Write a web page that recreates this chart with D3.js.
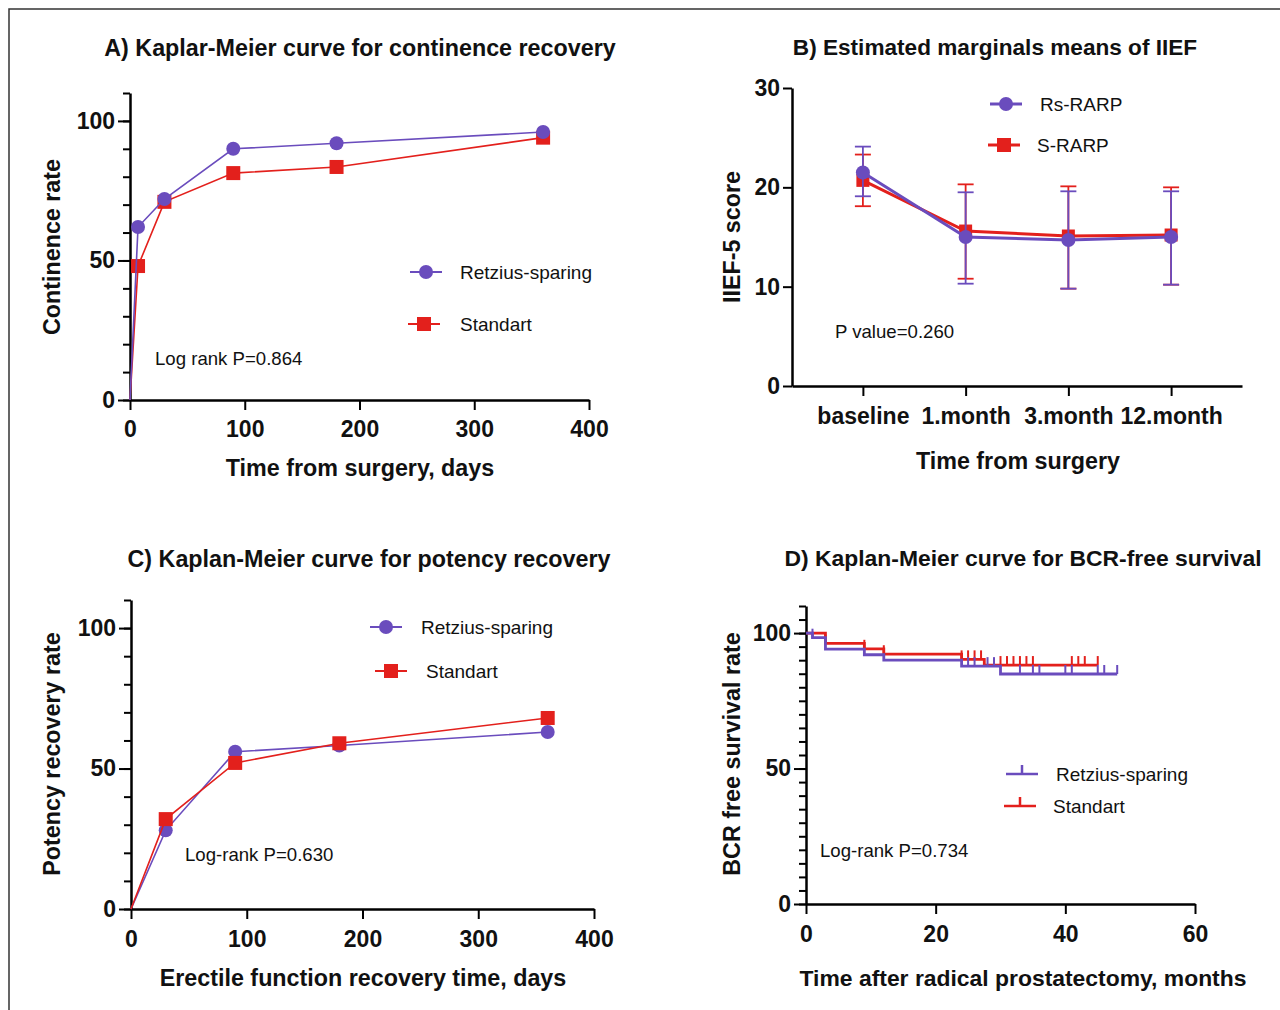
<!DOCTYPE html>
<html>
<head>
<meta charset="utf-8">
<script src="https://cdn.jsdelivr.net/npm/d3@7"></script>
<style>
    body { margin: 0; background: #fff; }
    svg { display: block; font-family: Arial, "Liberation Sans", sans-serif; }
</style>
</head>
<body>
<svg id="chart" width="1280" height="1010"></svg>
<script>
'use strict';

// ##################################################
// #  Data                                          #
// ##################################################

const continenceDays = [0, 7, 30, 90, 180, 360];
const continenceRetzius = [0, 62, 72, 90, 92, 96];
const continenceStandart = [0, 48, 71, 81.3, 83.5, 94];

const iiefVisits = ['baseline', '1.month', '3.month', '12.month'];
const iiefRsMean = [21.5, 15.0, 14.7, 15.0];
const iiefRsLow = [19.1, 10.3, 9.8, 10.2];
const iiefRsHigh = [24.1, 19.5, 19.6, 19.6];
const iiefSMean = [20.7, 15.6, 15.1, 15.2];
const iiefSLow = [18.1, 10.8, 9.8, 10.2];
const iiefSHigh = [23.3, 20.3, 20.1, 20.0];

const potencyDays = [0, 30, 90, 180, 360];
const potencyRetzius = [0, 28, 56, 58.2, 63];
const potencyStandart = [0, 32, 52, 59, 68];

const bcrRetziusTimes = [0, 1, 3, 9, 12, 24, 30, 48];
const bcrRetziusSurv = [100, 98.3, 94.1, 92.0, 90.0, 87.8, 84.9, 84.9];
const bcrRetziusCensored = [1, 25, 26, 28, 29, 33, 35, 36, 40, 41, 45, 46, 48];
const bcrStandartTimes = [0, 3, 9, 12, 24, 27.5, 45];
const bcrStandartSurv = [100, 96.2, 94.2, 92.2, 90.3, 88.2, 88.2];
const bcrStandartCensored = [3, 9, 12, 24, 25, 26, 27, 30, 31, 32, 33, 34, 35, 41, 42, 43, 45];

const purple = '#6a4cbd';
const red = '#e3201c';
const titleSize = 23.3;

let svg = d3.select('#chart');

// frame
svg.append('path')
    .attr('d', 'M9,1010V9H1280')
    .attr('fill', 'none')
    .attr('stroke', '#333')
    .attr('stroke-width', 1.5);

// ##################################################
// #  Helpers                                       #
// ##################################################

function styleAxis(g) {
    g.select('.domain').attr('stroke', '#000').attr('stroke-width', 2.5);
    g.selectAll('.tick line').attr('stroke', '#000').attr('stroke-width', 2);
    g.selectAll('.tick text')
        .attr('fill', '#111')
        .attr('font-size', 23)
        .attr('font-weight', 'bold')
        .attr('font-family', 'Arial, "Liberation Sans", sans-serif');
}

function drawYAxis(scale, x, majors, minors, majorSize, minorSize) {
    let g = svg.append('g').attr('transform', `translate(${x},0)`);
    if (minors) {
        g.append('g')
            .call(d3.axisLeft(scale).tickValues(minors).tickSize(minorSize).tickFormat(''))
            .call(m => m.select('.domain').remove())
            .call(m => m.selectAll('line').attr('stroke', '#000').attr('stroke-width', 2));
    }
    g.append('g')
        .call(d3.axisLeft(scale).tickValues(majors).tickSize(majorSize).tickSizeOuter(0).tickPadding(3))
        .call(styleAxis);
}

function drawXAxis(scale, y, ticks, padding) {
    let axis = d3.axisBottom(scale).tickSize(10).tickSizeOuter(0).tickPadding(padding);
    if (ticks) axis.tickValues(ticks);
    svg.append('g')
        .attr('transform', `translate(0,${y})`)
        .call(axis)
        .call(styleAxis);
}

function text(x, y, str, opts) {
    opts = opts || {};
    let t = svg.append('text')
        .attr('x', x)
        .attr('y', y)
        .attr('fill', '#111')
        .attr('font-size', opts.size || 18.6)
        .attr('font-weight', opts.bold ? 'bold' : 'normal')
        .attr('text-anchor', opts.anchor || 'start')
        .text(str);
    if (opts.rotate) {
        t.attr('transform', `rotate(-90,${x},${y})`);
    }
    return t;
}

function marker(x, y, shape, color, size) {
    if (shape === 'circle') {
        svg.append('circle')
            .attr('cx', x).attr('cy', y).attr('r', size / 2)
            .attr('fill', color);
    } else {
        svg.append('rect')
            .attr('x', x - size / 2).attr('y', y - size / 2)
            .attr('width', size).attr('height', size)
            .attr('fill', color);
    }
}

function lineSeries(xs, ys, xScale, yScale, color, width, shape, size, skipFirst) {
    let pts = xs.map((d, i) => [xScale(d), yScale(ys[i])]);
    svg.append('path')
        .attr('d', d3.line()(pts))
        .attr('fill', 'none')
        .attr('stroke', color)
        .attr('stroke-width', width);
    pts.forEach((p, i) => {
        if (skipFirst && i === 0) return;
        marker(p[0], p[1], shape, color, size);
    });
}

function legendEntry(x1, x2, y, color, shape, label, tx, width) {
    svg.append('line')
        .attr('x1', x1).attr('x2', x2).attr('y1', y).attr('y2', y)
        .attr('stroke', color).attr('stroke-width', width || 2);
    if (shape === 'tick') {
        svg.append('line')
            .attr('x1', (x1 + x2) / 2).attr('x2', (x1 + x2) / 2)
            .attr('y1', y).attr('y2', y - 9)
            .attr('stroke', color).attr('stroke-width', 2.5);
    } else {
        marker((x1 + x2) / 2, y, shape, color, 14);
    }
    text(tx, y + 7, label, { size: 19 });
}

// ##################################################
// #  A) Continence                                 #
// ##################################################

(function () {
    let x = d3.scaleLinear([0, 400], [130, 589]);
    let y = d3.scaleLinear([0, 110], [400, 93]);
    drawYAxis(y, 130, [0, 50, 100], d3.range(0, 111, 10), 12, 7);
    drawXAxis(x, 400, [0, 100, 200, 300, 400], 11);

    lineSeries(continenceDays, continenceStandart, x, y, red, 1.6, 'square', 14, true);
    lineSeries(continenceDays, continenceRetzius, x, y, purple, 1.6, 'circle', 14, true);

    text(360, 56, 'A) Kaplar-Meier curve for continence recovery', { size: titleSize, bold: true, anchor: 'middle' });
    text(360, 476, 'Time from surgery, days', { size: titleSize, bold: true, anchor: 'middle' });
    text(60, 247, 'Continence rate', { size: titleSize, bold: true, anchor: 'middle', rotate: true });
    text(155, 365, 'Log rank P=0.864');

    legendEntry(410, 442, 272, purple, 'circle', 'Retzius-sparing', 460);
    legendEntry(408, 440, 324, red, 'square', 'Standart', 460);
})();

// ##################################################
// #  B) IIEF-5                                     #
// ##################################################

(function () {
    let x = d3.scalePoint(iiefVisits, [792, 1242]).padding(0.69);
    let y = d3.scaleLinear([0, 30], [386, 88]);
    drawYAxis(y, 792, [0, 10, 20, 30], null, 9, 0);
    drawXAxis(x, 386, null, 12);

    function errorBars(low, high, color) {
        iiefVisits.forEach((v, i) => {
            let cx = x(v);
            let g = svg.append('g').attr('stroke', color).attr('stroke-width', 1.8);
            g.append('line').attr('x1', cx).attr('x2', cx).attr('y1', y(low[i])).attr('y2', y(high[i]));
            g.append('line').attr('x1', cx - 8).attr('x2', cx + 8).attr('y1', y(low[i])).attr('y2', y(low[i]));
            g.append('line').attr('x1', cx - 8).attr('x2', cx + 8).attr('y1', y(high[i])).attr('y2', y(high[i]));
        });
    }

    errorBars(iiefSLow, iiefSHigh, red);
    lineSeries(iiefVisits, iiefSMean, x, y, red, 3, 'square', 13, false);
    errorBars(iiefRsLow, iiefRsHigh, purple);
    lineSeries(iiefVisits, iiefRsMean, x, y, purple, 3, 'circle', 14, false);

    text(995, 55, 'B) Estimated marginals means of IIEF', { size: 22.6, bold: true, anchor: 'middle' });
    text(1018, 469, 'Time from surgery', { size: titleSize, bold: true, anchor: 'middle' });
    text(740, 237, 'IIEF-5 score', { size: titleSize, bold: true, anchor: 'middle', rotate: true });
    text(835, 338, 'P value=0.260');

    legendEntry(990, 1022, 104, purple, 'circle', 'Rs-RARP', 1040, 3);
    legendEntry(988, 1020, 145, red, 'square', 'S-RARP', 1037, 3);
})();

// ##################################################
// #  C) Potency                                    #
// ##################################################

(function () {
    let x = d3.scaleLinear([0, 400], [131, 594]);
    let y = d3.scaleLinear([0, 110], [909, 600]);
    drawYAxis(y, 131, [0, 50, 100], d3.range(0, 111, 10), 12, 7);
    drawXAxis(x, 909, [0, 100, 200, 300, 400], 12);

    lineSeries(potencyDays, potencyRetzius, x, y, purple, 1.6, 'circle', 14, true);
    lineSeries(potencyDays, potencyStandart, x, y, red, 1.6, 'square', 14, true);

    text(369, 567, 'C) Kaplan-Meier curve for potency recovery', { size: titleSize, bold: true, anchor: 'middle' });
    text(363, 986, 'Erectile function recovery time, days', { size: titleSize, bold: true, anchor: 'middle' });
    text(60, 754, 'Potency recovery rate', { size: titleSize, bold: true, anchor: 'middle', rotate: true });
    text(185, 861, 'Log-rank P=0.630');

    legendEntry(370, 402, 627, purple, 'circle', 'Retzius-sparing', 421);
    legendEntry(375, 407, 671, red, 'square', 'Standart', 426);
})();

// ##################################################
// #  D) BCR-free survival                          #
// ##################################################

(function () {
    let x = d3.scaleLinear([0, 60], [806, 1195]);
    let y = d3.scaleLinear([0, 110], [904, 606]);
    drawYAxis(y, 806, [0, 50, 100], d3.range(0, 111, 5), 12, 7);
    drawXAxis(x, 904, [0, 20, 40, 60], 12);

    function km(times, surv, censored, color) {
        let pts = times.map((t, i) => [x(t), y(surv[i])]);
        svg.append('path')
            .attr('d', d3.line().curve(d3.curveStepAfter)(pts))
            .attr('fill', 'none')
            .attr('stroke', color)
            .attr('stroke-width', 2.8);
        censored.forEach(c => {
            let idx = d3.bisectRight(times, c) - 1;
            let s = surv[Math.max(0, idx)];
            svg.append('line')
                .attr('x1', x(c)).attr('x2', x(c))
                .attr('y1', y(s)).attr('y2', y(s) - 9)
                .attr('stroke', color)
                .attr('stroke-width', 2);
        });
    }

    km(bcrStandartTimes, bcrStandartSurv, bcrStandartCensored, red);
    km(bcrRetziusTimes, bcrRetziusSurv, bcrRetziusCensored, purple);

    text(1023, 566, 'D) Kaplan-Meier curve for BCR-free survival', { size: 22.9, bold: true, anchor: 'middle' });
    text(1023, 986, 'Time after radical prostatectomy, months', { size: 22.9, bold: true, anchor: 'middle' });
    text(740, 754, 'BCR free survival rate', { size: titleSize, bold: true, anchor: 'middle', rotate: true });
    text(820, 857, 'Log-rank P=0.734');

    legendEntry(1006, 1038, 774, purple, 'tick', 'Retzius-sparing', 1056, 2.5);
    legendEntry(1004, 1036, 806, red, 'tick', 'Standart', 1053, 2.5);
})();
</script>
</body>
</html>
